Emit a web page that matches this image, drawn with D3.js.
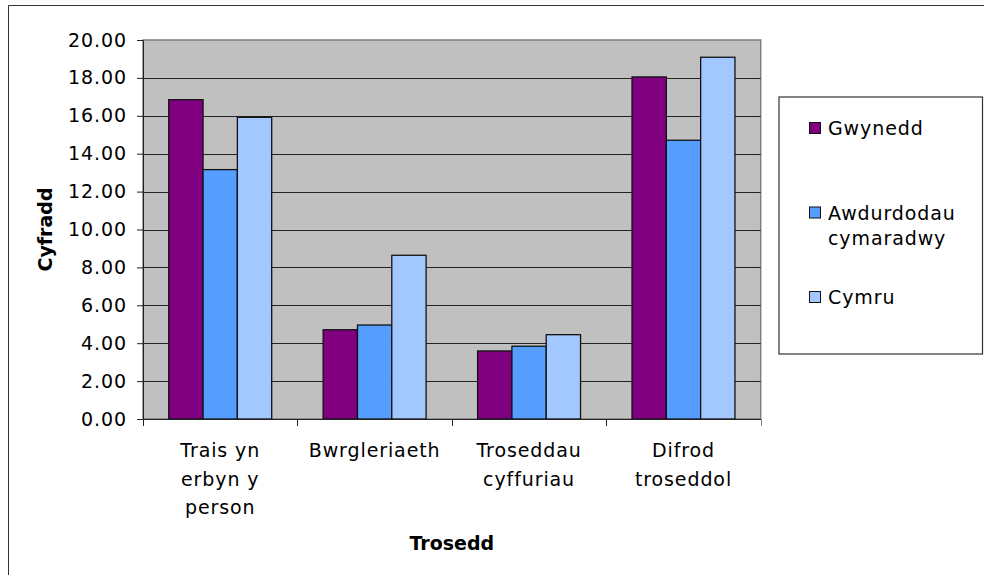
<!DOCTYPE html>
<html>
<head>
<meta charset="utf-8">
<script src="https://cdn.jsdelivr.net/npm/d3@7"></script>
<style>
  body { margin: 0; background: #fff; }
  text { font-family: "DejaVu Sans", Verdana, sans-serif; fill: #000; }
</style>
</head>
<body>
<script>
// data
var categories = ["Trais yn erbyn y person", "Bwrgleriaeth", "Troseddau cyffuriau", "Difrod troseddol"];
var seriesNames = ["Gwynedd", "Awdurdodau cymaradwy", "Cymru"];
var gwynedd = [16.85, 4.71, 3.59, 18.05];
var awdurdodau = [13.16, 4.96, 3.84, 14.71];
var cymru = [15.92, 8.64, 4.45, 19.09];
var yTicks = [0, 2, 4, 6, 8, 10, 12, 14, 16, 18, 20];

var seriesValues = [gwynedd, awdurdodau, cymru];
var colors = ["#800080", "#559dff", "#a3c8ff"];

var width = 984, height = 575;
var plot = { left: 143, top: 40, right: 760.7, bottom: 419 };
var fontSize = 19, spacing = 0.9;

var svg = d3.select("body").append("svg")
    .attr("width", width)
    .attr("height", height);

// outer chart border (only top and left show in the frame)
svg.append("path")
    .attr("d", "M8.5," + height + "V5.5H" + width)
    .attr("fill", "none")
    .attr("stroke", "#333")
    .attr("stroke-width", 1);

// scales
var x0 = d3.scaleBand()
    .domain(categories)
    .range([plot.left, plot.right]);

var bw = x0.bandwidth();
var gap = bw * 1.5 / 4.5;   // excel gap width 150%

var x1 = d3.scaleBand()
    .domain(seriesNames)
    .range([gap / 2, bw - gap / 2]);

var y = d3.scaleLinear()
    .domain([0, 20])
    .range([plot.bottom, plot.top]);

// plot area background
svg.append("rect")
    .attr("x", plot.left)
    .attr("y", plot.top)
    .attr("width", plot.right - plot.left)
    .attr("height", plot.bottom - plot.top)
    .attr("fill", "#c0c0c0")
    .attr("stroke", "#808080")
    .attr("stroke-width", 1.5);

// gridlines
svg.append("g")
    .selectAll("line")
    .data(yTicks.slice(1, -1))
    .enter().append("line")
    .attr("x1", plot.left)
    .attr("x2", plot.right)
    .attr("y1", function(d) { return Math.round(y(d)) + 0.5; })
    .attr("y2", function(d) { return Math.round(y(d)) + 0.5; })
    .attr("stroke", "#222")
    .attr("stroke-width", 1);

// bars
var group = svg.append("g")
    .selectAll("g")
    .data(categories)
    .enter().append("g")
    .attr("transform", function(d) { return "translate(" + x0(d) + ",0)"; });

group.selectAll("rect")
    .data(function(d, i) {
      return seriesNames.map(function(s, j) {
        return { name: s, value: seriesValues[j][i], color: colors[j] };
      });
    })
    .enter().append("rect")
    .attr("x", function(d) { return x1(d.name); })
    .attr("y", function(d) { return y(d.value); })
    .attr("width", x1.bandwidth())
    .attr("height", function(d) { return y(0) - y(d.value); })
    .attr("fill", function(d) { return d.color; })
    .attr("stroke", "#111")
    .attr("stroke-width", 1.3);

// y axis
var yAxis = svg.append("g")
    .attr("transform", "translate(" + plot.left + ",0)")
    .call(d3.axisLeft(y).tickValues(yTicks).tickFormat(d3.format(".2f")).tickSize(6).tickPadding(10));

yAxis.select(".domain").attr("stroke", "#222");
yAxis.selectAll(".tick line").attr("stroke", "#222");
yAxis.selectAll("text")
    .attr("font-size", fontSize)
    .style("letter-spacing", spacing + "px")
    .attr("font-family", null);

// x axis
var xAxis = svg.append("g")
    .attr("transform", "translate(0," + plot.bottom + ")")
    .call(d3.axisBottom(x0).tickSize(0).tickPadding(0));

xAxis.select(".domain").attr("stroke", "#222");
xAxis.selectAll(".tick").remove();

// category boundary ticks
svg.append("g")
    .selectAll("line")
    .data(categories.concat(["end"]))
    .enter().append("line")
    .attr("x1", function(d, i) { return Math.round(plot.left + i * bw) + 0.5; })
    .attr("x2", function(d, i) { return Math.round(plot.left + i * bw) + 0.5; })
    .attr("y1", plot.bottom)
    .attr("y2", plot.bottom + 7)
    .attr("stroke", function(d, i) { return i === categories.length ? "#808080" : "#222"; });

// wrap words into lines no wider than maxW
function wrapLines(str, maxW) {
  var words = str.split(" "), lines = [], cur = "";
  var probe = svg.append("text").attr("font-size", fontSize).style("letter-spacing", spacing + "px");
  words.forEach(function(w) {
    var test = cur ? cur + " " + w : w;
    probe.text(test);
    if (cur && probe.node().getComputedTextLength() > maxW) {
      lines.push(cur);
      cur = w;
    } else {
      cur = test;
    }
  });
  lines.push(cur);
  probe.remove();
  return lines;
}

// category labels
categories.forEach(function(c) {
  var lines = wrapLines(c, 110);
  var t = svg.append("text")
      .attr("text-anchor", "middle")
      .attr("font-size", fontSize)
      .style("letter-spacing", spacing + "px");
  lines.forEach(function(l, k) {
    t.append("tspan")
      .attr("x", x0(c) + bw / 2)
      .attr("y", 457 + k * 28.5)
      .text(l);
  });
});

// axis titles
svg.append("text")
    .attr("transform", "translate(52," + ((plot.top + plot.bottom) / 2) + ") rotate(-90)")
    .attr("text-anchor", "middle")
    .attr("font-size", fontSize)
    .attr("font-weight", "bold")
    .text("Cyfradd");

svg.append("text")
    .attr("x", (plot.left + plot.right) / 2)
    .attr("y", 550)
    .attr("text-anchor", "middle")
    .attr("font-size", fontSize)
    .attr("font-weight", "bold")
    .text("Trosedd");

// legend
var legend = svg.append("g");

legend.append("rect")
    .attr("x", 779)
    .attr("y", 97)
    .attr("width", 203.5)
    .attr("height", 257)
    .attr("fill", "#fff")
    .attr("stroke", "#333")
    .attr("stroke-width", 1.2);

seriesNames.forEach(function(s, i) {
  var cy = 128 + i * 84.5;
  legend.append("rect")
      .attr("x", 809.5)
      .attr("y", cy - 5.5)
      .attr("width", 11)
      .attr("height", 11)
      .attr("fill", colors[i])
      .attr("stroke", "#111")
      .attr("stroke-width", 1);
  var lines = wrapLines(s, 140);
  var t = legend.append("text")
      .attr("font-size", fontSize)
      .style("letter-spacing", spacing + "px");
  lines.forEach(function(l, k) {
    t.append("tspan")
      .attr("x", k === 0 ? 828 : 828 + 0)
      .attr("y", cy + 7 + k * 25)
      .text(l);
  });
});
</script>
</body>
</html>
